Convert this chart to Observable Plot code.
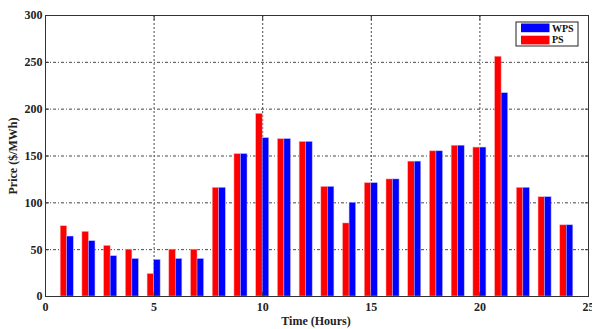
<!DOCTYPE html>
<html>
<head>
<meta charset="utf-8">
<script src="https://cdn.jsdelivr.net/npm/d3@7"></script>
<script src="https://cdn.jsdelivr.net/npm/@observablehq/plot@0.6"></script>
<style>
  html, body { margin: 0; padding: 0; background: #fff; }
  #chart { width: 592px; height: 329px; }
</style>
</head>
<body>
<div id="chart"></div>
<script>
const hours = [1,2,3,4,5,6,7,8,9,10,11,12,13,14,15,16,17,18,19,20,21,22,23,24];
const psPrice  = [75,69,54,50,24,50,50,116,152,195,168,165,117,78,121,125,144,155,161,159,256,116,106,76];
const wpsPrice = [64,59,43,40,39,40,40,116,152,169,168,165,117,100,121,125,144,155,161,159,217,116,106,76];
const xTicks = [0,5,10,15,20,25];
const yTicks = [0,50,100,150,200,250,300];
const seriesNames = ["WPS","PS"];
const seriesColors = ["#0000ff","#ff0000"];

const barHalf = 0.3;
const ps = hours.map((h,i) => ({hour: h, value: psPrice[i]}));
const wps = hours.map((h,i) => ({hour: h, value: wpsPrice[i]}));

const font = "'Liberation Serif', 'Times New Roman', serif";

const plot = Plot.plot({
  width: 592,
  height: 329,
  marginLeft: 45,
  marginRight: 4,
  marginTop: 15,
  marginBottom: 33,
  style: {fontFamily: font, fontSize: "12px", fontWeight: "bold", color: "#222", background: "#fff"},
  x: {domain: [0,25], ticks: xTicks, label: null},
  y: {domain: [0,300], ticks: yTicks, label: null},
  marks: [
    Plot.gridX(xTicks.slice(1,-1), {stroke: "#333", strokeOpacity: 0.9, strokeDasharray: "2,2"}),
    Plot.gridY(yTicks.slice(1,-1), {stroke: "#333", strokeOpacity: 0.9, strokeDasharray: "3,2,1,2"}),
    Plot.rectY(ps, {x1: d => d.hour - barHalf, x2: d => d.hour, y: "value", fill: seriesColors[1], stroke: "#ffb0b0", strokeWidth: 0.5}),
    Plot.rectY(wps, {x1: d => d.hour, x2: d => d.hour + barHalf, y: "value", fill: seriesColors[0], stroke: "#b0b0ff", strokeWidth: 0.5}),
    Plot.frame({stroke: "#333", strokeWidth: 1}),
    Plot.axisX(xTicks, {tickSize: -4, tickPadding: 10, stroke: "#333", fontFamily: font, fontWeight: "bold", fontSize: 12, fill: "#222"}),
    Plot.axisY(yTicks, {tickSize: -4, tickPadding: 7, stroke: "#333", fontFamily: font, fontWeight: "bold", fontSize: 12, fill: "#222"}),
    Plot.axisX(xTicks, {anchor: "top", tickSize: -4, tickFormat: () => "", stroke: "#333"}),
    Plot.axisY(yTicks, {anchor: "right", tickSize: -4, tickFormat: () => "", stroke: "#333"})
  ]
});

document.getElementById("chart").appendChild(plot);

const svg = d3.select(plot);
// axis labels
svg.append("text")
  .attr("x", 316).attr("y", 325)
  .attr("text-anchor", "middle")
  .attr("font-family", font).attr("font-weight", "bold").attr("font-size", 12)
  .attr("fill", "#222")
  .text("Time (Hours)");
svg.append("text")
  .attr("transform", "translate(17,156) rotate(-90)")
  .attr("text-anchor", "middle")
  .attr("font-family", font).attr("font-weight", "bold").attr("font-size", 12)
  .attr("fill", "#222")
  .text("Price ($/MWh)");

// legend
const lg = svg.append("g").attr("transform", "translate(516,22)");
lg.append("rect").attr("x", 0).attr("y", 0).attr("width", 62).attr("height", 24)
  .attr("fill", "#fff").attr("stroke", "#222").attr("stroke-width", 1);
seriesNames.forEach((name, i) => {
  lg.append("rect").attr("x", 5).attr("y", 1.5 + i * 12.2).attr("width", 28.5).attr("height", 8.7)
    .attr("fill", seriesColors[i]);
  lg.append("text").attr("x", 36).attr("y", 9.5 + i * 11.5)
    .attr("text-anchor", "start")
    .attr("font-family", font).attr("font-weight", "bold").attr("font-size", 10)
    .attr("fill", "#111").text(name);
});
</script>
</body>
</html>
